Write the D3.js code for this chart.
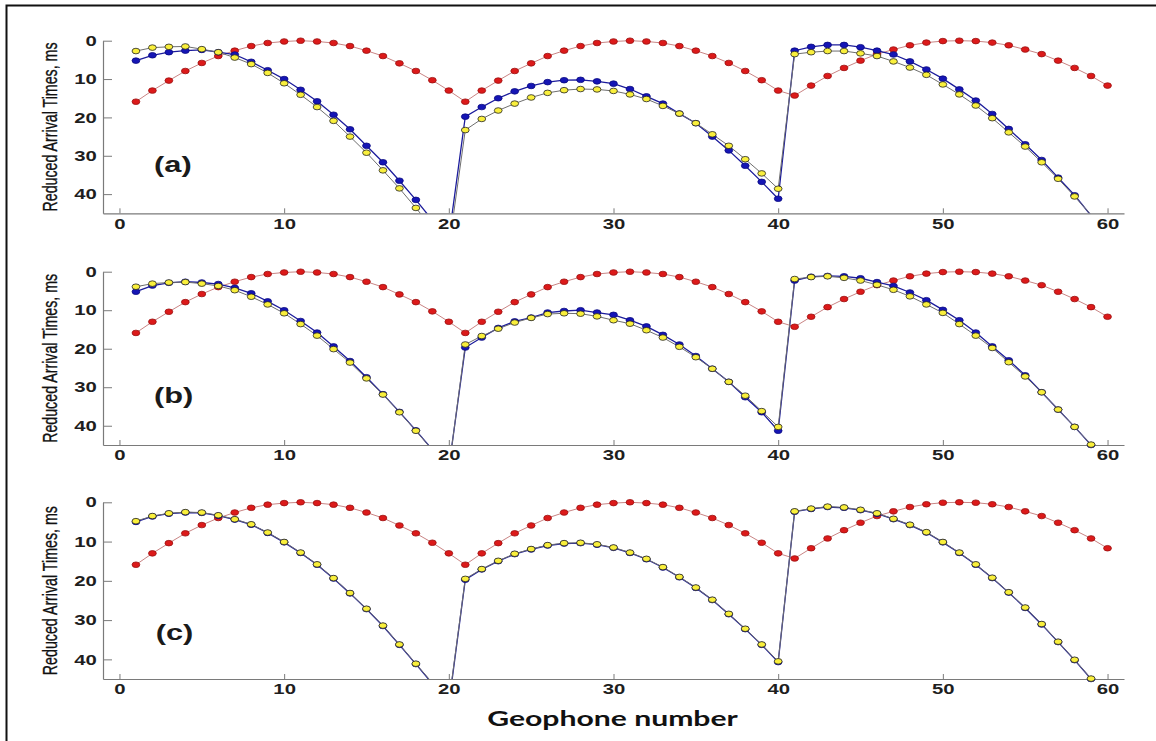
<!DOCTYPE html>
<html>
<head>
<meta charset="utf-8">
<script src="https://cdn.jsdelivr.net/npm/d3@7"></script>
<style>
  body { margin: 0; background: #fff; }
  svg { display: block; }
</style>
</head>
<body>
<svg id="chart" width="1156" height="741"></svg>
<script>
// Reduced arrival times vs geophone number, three panels (a), (b), (c)

const geophones = d3.range(1, 61);
const xTicks = [0, 10, 20, 30, 40, 50, 60];
const yTicks = [0, 10, 20, 30, 40];
const panelLabels = ['(a)', '(b)', '(c)'];

// red picks are the same in all three panels
const redTimes = [
    15.9, 13.0, 10.4, 7.9, 5.8, 4.0, 2.6, 1.4, 0.6, 0.2, 0.0, 0.2, 0.6, 1.4, 2.6, 4.0, 5.9, 7.9, 10.3, 13.0,
    15.9, 13.0, 10.4, 7.9, 5.9, 4.0, 2.6, 1.4, 0.6, 0.2, 0.0, 0.2, 0.6, 1.4, 2.6, 4.0, 5.8, 7.9, 10.3, 13.0,
    14.3, 11.7, 9.2, 7.1, 5.2, 3.5, 2.3, 1.2, 0.5, 0.1, 0.0, 0.1, 0.5, 1.2, 2.3, 3.5, 5.2, 7.1, 9.2, 11.7
];

const blueA = [
    5.2, 3.8, 3.0, 2.6, 2.4, 3.0, 3.6, 5.5, 7.7, 10.0, 12.8, 15.8, 19.3, 23.1, 27.4, 31.7, 36.5, 41.5, 46.8, 51.5,
    19.8, 17.3, 15.0, 13.2, 11.8, 10.8, 10.3, 10.2, 10.6, 11.2, 12.6, 14.5, 16.4, 19.0, 21.5, 25.0, 28.6, 32.6, 36.8, 41.2,
    2.6, 1.6, 1.1, 1.1, 1.7, 2.6, 3.6, 5.4, 7.5, 9.9, 12.7, 15.6, 19.1, 23.0, 27.0, 31.1, 35.7, 40.3, 45.6, 51.0
];
const yellowA = [
    2.7, 1.8, 1.6, 1.5, 2.2, 3.0, 4.4, 6.1, 8.4, 11.1, 14.1, 17.3, 20.9, 25.0, 29.2, 33.8, 38.5, 43.6, 48.8, 54.0,
    23.3, 20.4, 18.2, 16.4, 14.8, 13.6, 12.9, 12.6, 12.7, 13.1, 14.0, 15.2, 17.0, 19.0, 21.5, 24.4, 27.4, 30.9, 34.6, 38.6,
    3.5, 3.0, 2.7, 2.7, 3.3, 4.0, 5.4, 7.0, 8.9, 11.4, 14.0, 16.9, 20.2, 23.9, 27.6, 31.7, 36.0, 40.6, 45.4, 50.5
];

const blueB = [
    5.2, 3.6, 2.9, 2.6, 2.8, 3.2, 4.2, 5.6, 7.7, 10.0, 12.8, 15.8, 19.4, 23.2, 27.4, 31.8, 36.4, 41.2, 46.2, 51.0,
    19.7, 17.1, 14.6, 12.9, 11.9, 10.6, 10.2, 10.0, 10.6, 11.2, 12.6, 14.2, 16.4, 18.9, 21.9, 25.2, 28.6, 32.6, 36.5, 41.3,
    2.3, 1.3, 1.1, 1.2, 1.7, 2.7, 3.7, 5.4, 7.4, 9.9, 12.6, 15.8, 19.4, 23.0, 26.9, 31.3, 35.8, 40.3, 45.0, 50.0
];
const yellowB = [
    3.9, 3.1, 2.8, 2.7, 3.1, 3.7, 4.8, 6.5, 8.5, 10.8, 13.6, 16.6, 20.1, 23.6, 27.7, 31.9, 36.5, 41.3, 46.3, 51.2,
    18.9, 16.7, 14.8, 13.2, 12.0, 11.0, 10.8, 10.9, 11.6, 12.6, 13.5, 15.2, 17.1, 19.5, 22.2, 25.2, 28.6, 32.2, 36.2, 40.3,
    1.9, 1.4, 1.2, 1.6, 2.3, 3.4, 4.7, 6.4, 8.5, 10.7, 13.6, 16.6, 19.8, 23.5, 27.2, 31.3, 35.8, 40.3, 44.9, 50.0
];

const blueC = [
    5.0, 3.6, 2.9, 2.6, 2.7, 3.4, 4.4, 5.7, 7.8, 10.2, 12.9, 15.9, 19.4, 23.2, 27.2, 31.5, 36.3, 41.2, 46.2, 51.5,
    19.7, 17.1, 15.0, 13.2, 12.0, 11.0, 10.5, 10.4, 10.8, 11.6, 12.9, 14.5, 16.6, 19.1, 21.8, 24.9, 28.5, 32.3, 36.3, 40.7,
    2.4, 1.7, 1.2, 1.4, 2.0, 2.9, 4.3, 5.8, 7.7, 10.2, 12.9, 15.9, 19.3, 23.0, 26.9, 31.1, 35.6, 40.2, 45.0, 50.0
];
const yellowC = [
    4.8, 3.5, 2.8, 2.5, 2.6, 3.3, 4.3, 5.6, 7.7, 10.1, 12.8, 15.8, 19.3, 23.1, 27.1, 31.4, 36.2, 41.1, 46.0, 51.0,
    19.5, 17.0, 14.9, 13.1, 11.9, 10.9, 10.4, 10.3, 10.7, 11.5, 12.8, 14.4, 16.5, 19.0, 21.7, 24.8, 28.4, 32.2, 36.2, 40.5,
    2.3, 1.6, 1.1, 1.3, 1.9, 2.8, 4.2, 5.7, 7.6, 10.1, 12.8, 15.8, 19.2, 22.9, 26.8, 31.0, 35.5, 40.1, 44.9, 50.0
];

const panelBlue = [blueA, blueB, blueC];
const panelYellow = [yellowA, yellowB, yellowC];

// layout (pixels) - the source figure is stretched ~1.4x horizontally
const STRETCH = 1.4;
const panelBoxes = [
    { top: 40.7, bottom: 213.3, labelX: 2.1, labelY: 34.3 },
    { top: 271.7, bottom: 445, labelX: 2.1, labelY: 34.2 },
    { top: 502.3, bottom: 679, labelX: 2.2, labelY: 35.1 }
];
const plotLeft = 103, plotRight = 1124;

const styles = {
    red: { fill: '#dc1a1a', stroke: '#9a1010', line: '#c98484', lineWidth: 1 },
    blue: { fill: '#1515b5', stroke: '#0a0a80', line: '#1c1c9c', lineWidth: 1.3 },
    yellow: { fill: '#f9ef3c', stroke: '#222', line: '#6e6e6e', lineWidth: 1 }
};

const svg = d3.select('#chart');

// outer frame (only top and left edges fall inside the picture)
svg.append('path')
    .attr('d', 'M6.5,741 V5.5 H1156')
    .attr('fill', 'none')
    .attr('stroke', '#111')
    .attr('stroke-width', 2);

const x = d3.scaleLinear().domain([-1, 61]).range([plotLeft, plotRight]);

panelBoxes.forEach((box, p) => {
    const y = d3.scaleLinear().domain([0, 45]).range([box.top, box.bottom]);
    const g = svg.append('g').attr('class', 'panel');

    const clipId = `clip-${p}`;
    svg.append('defs').append('clipPath').attr('id', clipId)
        .append('rect')
        .attr('x', plotLeft)
        .attr('y', box.top - 6)
        .attr('width', plotRight - plotLeft)
        .attr('height', box.bottom - box.top + 6);

    // axes
    const yAxis = d3.axisLeft(y)
        .tickValues(yTicks)
        .tickSizeInner(-9)
        .tickSizeOuter(0)
        .tickPadding(4.4);
    const xAxis = d3.axisBottom(x)
        .tickValues(xTicks)
        .tickSizeInner(-5)
        .tickSizeOuter(0)
        .tickPadding(5);

    const gy = g.append('g')
        .attr('transform', `translate(${plotLeft},0)`)
        .call(yAxis);
    const gx = g.append('g')
        .attr('transform', `translate(0,${box.bottom})`)
        .call(xAxis);

    [gx, gy].forEach(ax => {
        ax.select('.domain').attr('stroke', '#7a7a7a').attr('stroke-width', 1.2);
        ax.selectAll('.tick line').attr('stroke', '#7a7a7a').attr('stroke-width', 1);
        ax.selectAll('.tick text')
            .attr('fill', '#1e1e1e')
            .attr('font-family', 'Liberation Sans, Arial, sans-serif')
            .attr('font-weight', 'bold')
            .attr('font-size', 14.5)
            .attr('transform', `scale(${STRETCH},1)`);
    });

    // y label
    g.append('text')
        .attr('transform', `translate(56.5,${(box.top + box.bottom) / 2}) scale(${STRETCH},1) rotate(-90)`)
        .attr('text-anchor', 'middle')
        .attr('fill', '#111')
        .attr('stroke', '#111')
        .attr('stroke-width', 0.25)
        .attr('font-family', 'Liberation Sans, Arial, sans-serif')
        .attr('font-size', 15)
        .attr('textLength', 169)
        .attr('lengthAdjust', 'spacingAndGlyphs')
        .text('Reduced Arrival Times, ms');

    // series
    const seriesList = [
        { key: 'red', values: redTimes },
        { key: 'blue', values: panelBlue[p] },
        { key: 'yellow', values: panelYellow[p] }
    ];

    const line = d3.line()
        .x((d, i) => x(geophones[i]))
        .y(d => y(d));

    const lines = g.append('g').attr('clip-path', `url(#${clipId})`);
    const marks = g.append('g');

    seriesList.forEach(s => {
        const st = styles[s.key];
        lines.append('path')
            .datum(s.values)
            .attr('fill', 'none')
            .attr('stroke', st.line)
            .attr('stroke-width', st.lineWidth)
            .attr('d', line);
    });

    seriesList.forEach(s => {
        const st = styles[s.key];
        const pts = s.values
            .map((v, i) => ({ g: geophones[i], v }))
            .filter(d => d.v <= 45.2);
        marks.selectAll(`.m-${s.key}`)
            .data(pts)
            .enter()
            .append('ellipse')
            .attr('class', `m-${s.key}`)
            .attr('cx', d => x(d.g))
            .attr('cy', d => y(d.v))
            .attr('rx', 3.9)
            .attr('ry', 2.8)
            .attr('fill', st.fill)
            .attr('stroke', st.stroke)
            .attr('stroke-width', 0.8);
    });

    // panel label
    g.append('text')
        .attr('transform', `translate(${x(box.labelX)},${y(box.labelY)}) scale(${STRETCH},1)`)
        .attr('fill', '#1a1a1a')
        .attr('font-family', 'Liberation Sans, Arial, sans-serif')
        .attr('font-weight', 'bold')
        .attr('font-size', 22)
        .text(panelLabels[p]);
});

// x label
svg.append('text')
    .attr('transform', `translate(612.5,726) scale(${STRETCH},1)`)
    .attr('text-anchor', 'middle')
    .attr('fill', '#111')
    .attr('font-family', 'Lato, "Open Sans", sans-serif')
    .attr('font-weight', 'bold')
    .attr('font-size', 21)
    .attr('textLength', 179)
    .attr('lengthAdjust', 'spacingAndGlyphs')
    .text('Geophone number');
</script>
</body>
</html>
